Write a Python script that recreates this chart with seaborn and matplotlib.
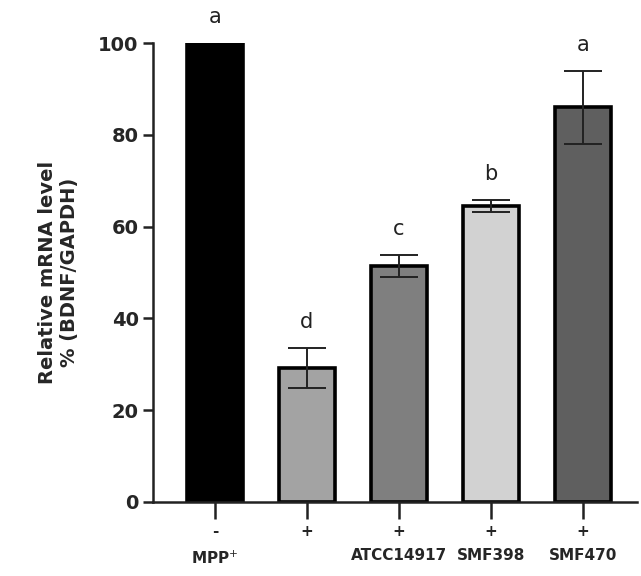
import matplotlib.pyplot as plt
import pandas as pd
import seaborn as sns

sns.set_theme(style="ticks")

groups = ["MPP", "MPP only", "ATCC14917", "SMF398", "SMF470"]
mpp = ["-", "+", "+", "+", "+"]
strain_labels = ["MPP$^{+}$", "", "ATCC14917", "SMF398", "SMF470"]
means = [100, 29.2, 51.5, 64.5, 86.0]
errs = [0, 4.4, 2.4, 1.3, 8.0]
letters = ["a", "d", "c", "b", "a"]
bar_colors = ["#000000", "#a3a3a3", "#7f7f7f", "#d2d2d2", "#5f5f5f"]


def main():
    df = pd.DataFrame({"group": groups, "value": means})

    fig = plt.figure(figsize=(6.41, 5.76), dpi=100)
    ax = fig.add_axes([0.239, 0.1285, 0.755, 0.7965])

    sns.barplot(data=df, x="group", y="value", hue="group",
                palette=bar_colors, legend=False, width=0.61,
                edgecolor="black", linewidth=2.6, saturation=1, ax=ax)

    # error bars (upper + lower caps), drawn above the bars
    for i, (m, e) in enumerate(zip(means, errs)):
        if e > 0:
            ax.errorbar(i, m, yerr=e, fmt="none", ecolor="#222222",
                        elinewidth=1.4, capsize=14, capthick=1.4,
                        zorder=5, clip_on=False)
        ax.text(i, m + e + 3.5, letters[i], ha="center", va="bottom",
                fontsize=15, color="#222222", clip_on=False)

    ax.set_ylim(0, 100)
    ax.set_xlim(-0.67, 4.59)
    ax.set_yticks(range(0, 101, 20))
    ax.set_xticks(range(len(groups)))
    ax.set_xticklabels([f"{a}\n{b}" for a, b in zip(mpp, strain_labels)],
                       fontsize=11, fontweight="bold", linespacing=1.75,
                       va="top")
    for lab in ax.get_yticklabels():
        lab.set_fontsize(14)
        lab.set_fontweight("bold")

    ax.set_xlabel("")
    ax.set_ylabel("Relative mRNA level\n% (BDNF/GAPDH)", fontsize=14,
                  fontweight="bold", labelpad=14)

    sns.despine(ax=ax)
    for side in ["left", "bottom"]:
        ax.spines[side].set_linewidth(1.8)
        ax.spines[side].set_color("#222222")
    ax.tick_params(axis="y", length=7, width=1.8, color="#222222")
    ax.tick_params(axis="x", length=12, width=1.8, color="#222222", pad=4)

    plt.savefig("out.png", dpi=100)


if __name__ == "__main__":
    main()
